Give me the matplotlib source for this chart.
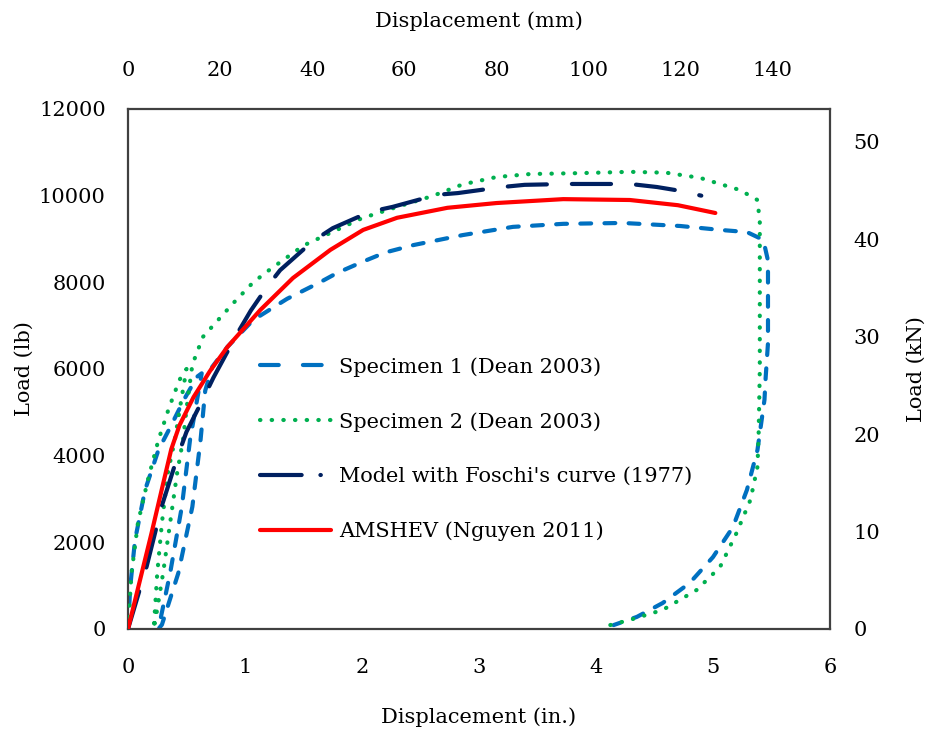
import matplotlib
matplotlib.use("Agg")
import matplotlib.pyplot as plt
from matplotlib.lines import Line2D

plt.rcParams['font.family'] = ['DejaVu Serif']
FS = 15

# Specimen 1 (Dean 2003): load, unload, reload, envelope, unload at end
spec1_x = [0, 0.02, 0.06, 0.145, 0.26, 0.36, 0.48, 0.59, 0.63,
           0.53, 0.46, 0.36, 0.26,
           0.29, 0.43, 0.55, 0.62, 0.66, 0.72,
           0.85, 1.07, 1.36, 1.64, 1.79, 2.01, 2.20, 2.44, 2.86, 3.29, 3.72,
           4.23, 4.72, 5.06, 5.29, 5.43, 5.47, 5.47, 5.47, 5.45, 5.44, 5.38,
           5.29, 5.17, 5.00, 4.80, 4.57, 4.35, 4.15]
spec1_y = [0, 1000, 2050, 3200, 4130, 4650, 5300, 5820, 5900,
           4360, 2820, 1290, 0,
           100, 1290, 2820, 4360, 5500, 6050,
           6510, 7130, 7620, 8000, 8220, 8480, 8690, 8860, 9090, 9280, 9350,
           9370, 9300, 9210, 9160, 8980, 8500, 7500, 6600, 5800, 5290, 4130,
           3210, 2350, 1660, 1060, 600, 280, 90]

# Specimen 2 (Dean 2003)
spec2_x = [0, 0.03, 0.085, 0.17, 0.26, 0.35, 0.44, 0.50,
           0.45, 0.40, 0.34, 0.29, 0.25, 0.22,
           0.24, 0.30, 0.36, 0.42, 0.47, 0.51, 0.55,
           0.64, 0.90, 1.07, 1.21, 1.50, 1.73, 2.00, 2.30, 2.60, 2.86, 3.15,
           3.44, 3.86, 4.29, 4.60, 4.89, 5.23, 5.38, 5.40, 5.40, 5.40, 5.39,
           5.38, 5.32, 5.20, 5.06, 4.86, 4.57, 4.29, 4.12]
spec2_y = [0, 1290, 2450, 3440, 4360, 5100, 5750, 6000,
           5200, 4360, 3600, 2450, 1290, 0,
           300, 1290, 2450, 3600, 4360, 5300, 6100,
           6740, 7520, 8000, 8290, 8850, 9140, 9480, 9740, 9990, 10260, 10430,
           10500, 10520, 10550, 10530, 10410, 10130, 9900, 9400, 8000, 6000, 4500,
           3740, 2980, 2210, 1430, 900, 440, 210, 90]

# Model with Foschi's curve (1977)
model_x = [0, 0.16, 0.29, 0.42, 0.50, 0.64, 0.73, 0.93, 1.05, 1.19, 1.30,
           1.58, 1.75, 2.07, 2.26, 2.64, 2.82, 3.20, 3.39, 3.76, 4.29, 4.52,
           4.70, 4.90]
model_y = [0, 1450, 2850, 3950, 4550, 5300, 5800, 6800, 7350, 7900, 8280,
           8950, 9250, 9630, 9740, 10020, 10060, 10200, 10250, 10270, 10270,
           10200, 10120, 10000]

# AMSHEV (Nguyen 2011)
amshev_x = [0, 0.20, 0.30, 0.37, 0.44, 0.56, 0.70, 0.85, 1.13, 1.41, 1.73,
            2.01, 2.30, 2.73, 3.15, 3.72, 4.29, 4.70, 5.02]
amshev_y = [0, 2200, 3350, 4150, 4700, 5350, 5950, 6510, 7360, 8100, 8750,
            9210, 9490, 9720, 9830, 9920, 9900, 9780, 9600]

labels = ["Specimen 1 (Dean 2003)", "Specimen 2 (Dean 2003)",
          "Model with Foschi's curve (1977)", "AMSHEV (Nguyen 2011)"]

x_ticks = [0, 1, 2, 3, 4, 5, 6]
y_ticks = [0, 2000, 4000, 6000, 8000, 10000, 12000]
mm_ticks = [0, 20, 40, 60, 80, 100, 120, 140]
kn_ticks = [0, 10, 20, 30, 40, 50]

IN_TO_MM = 25.4
LB_TO_KN = 0.0044482

BLUE, GREEN, NAVY, RED = '#0070C0', '#00B050', '#002060', '#FF0000'

fig = plt.figure(figsize=(9.28, 7.37), dpi=100)
ax = fig.add_axes([128 / 928, 1 - 629 / 737, 702 / 928, 520 / 737])

lw = 3.0
ax.plot(spec1_x, spec1_y, color=BLUE, lw=lw, linestyle=(0, (2.6, 3.2)),
        dash_capstyle='round', solid_joinstyle='round', zorder=2)
ax.plot(spec2_x, spec2_y, color=GREEN, lw=lw, linestyle=(0, (0.1, 2.7)),
        dash_capstyle='round', zorder=3)
ax.plot(model_x, model_y, color=NAVY, lw=lw, linestyle=(0, (9.4, 6.0)),
        dash_capstyle='round', zorder=4)
ax.plot(amshev_x, amshev_y, color=RED, lw=lw, solid_capstyle='round',
        solid_joinstyle='round', zorder=5)

ax.set_xlim(0, 6)
ax.set_ylim(0, 12000)
ax.set_xticks(x_ticks)
ax.set_yticks(y_ticks)
ax.tick_params(axis='x', length=0, pad=21, labelsize=FS)
ax.tick_params(axis='y', length=0, pad=16, labelsize=FS)
for s in ax.spines.values():
    s.set_color('#404040')
    s.set_linewidth(1.6)

ax.set_xlabel("Displacement (in.)", fontsize=FS, labelpad=22)
ax.set_ylabel("Load (lb)", fontsize=FS, labelpad=4)

top = ax.secondary_xaxis('top', functions=(lambda x: x * IN_TO_MM,
                                           lambda x: x / IN_TO_MM))
top.set_xticks(mm_ticks)
top.tick_params(length=0, pad=21, labelsize=FS)
top.spines['top'].set_visible(False)
top.set_xlabel("Displacement (mm)", fontsize=FS, labelpad=24)

right = ax.secondary_yaxis('right', functions=(lambda y: y * LB_TO_KN,
                                               lambda y: y / LB_TO_KN))
right.set_yticks(kn_ticks)
right.tick_params(length=0, pad=17, labelsize=FS)
right.spines['right'].set_visible(False)
right.set_ylabel("Load (kN)", fontsize=FS, labelpad=19)

handles = [
    Line2D([], [], color=BLUE, lw=lw, linestyle=(0, (4.5, 5.8)),
           dash_capstyle='round'),
    Line2D([], [], color=GREEN, lw=lw, linestyle=(0, (0.1, 2.7)),
           dash_capstyle='round'),
    Line2D([], [], color=NAVY, lw=lw, linestyle=(0, (10, 4.5, 0.1, 3)),
           dash_capstyle='round'),
    Line2D([], [], color=RED, lw=lw, solid_capstyle='round'),
]
ax.legend(handles, labels, loc='upper left',
          bbox_to_anchor=((260 - 128) / 702, (629 - 357) / 520),
          frameon=False, fontsize=FS, handlelength=3.4, handletextpad=0.4,
          labelspacing=1.7, borderpad=0, borderaxespad=0)

fig.savefig("out.png", dpi=100)
